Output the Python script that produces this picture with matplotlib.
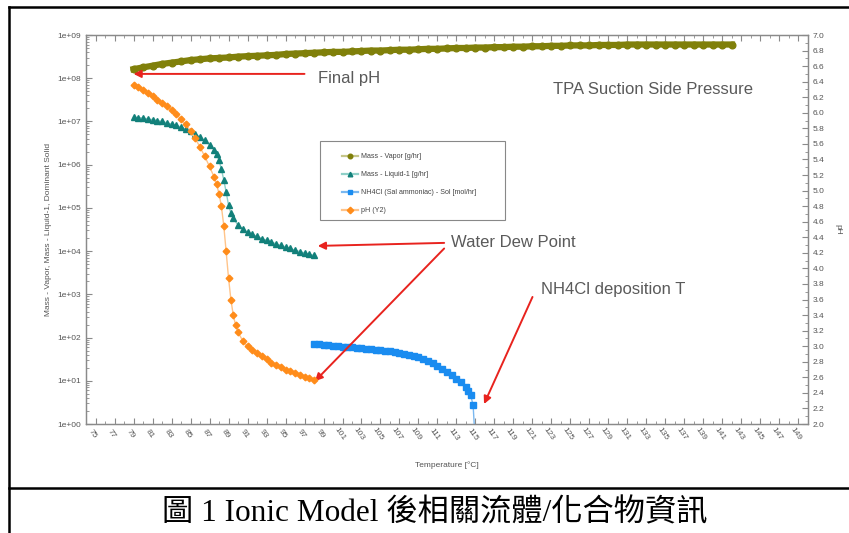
import matplotlib
matplotlib.use("Agg")
import matplotlib.pyplot as plt
import matplotlib.ticker as ticker
from matplotlib.lines import Line2D
from matplotlib.patches import Rectangle

plt.rcParams["font.family"] = ["Liberation Sans", "DejaVu Sans"]

# ---------------------------------------------------------------------------
# Simulation output (temperature sweep)
# ---------------------------------------------------------------------------

# Mass - Vapor [g/hr]
T_VAPOR = [79, 80, 81, 82, 83, 84, 85, 86, 87, 88, 89, 90, 91, 92, 93, 94,
           95, 96, 97, 98, 99, 100, 101, 102, 103, 104, 105, 106, 107, 108,
           109, 110, 111, 112, 113, 114, 115, 116, 117, 118, 119, 120, 121,
           122, 123, 124, 125, 126, 127, 128, 129, 130, 131, 132, 133, 134,
           135, 136, 137, 138, 139, 140, 141, 142]
M_VAPOR = [1.62e8, 1.78e8, 1.95e8, 2.14e8, 2.29e8, 2.45e8, 2.63e8, 2.75e8,
           2.88e8, 2.95e8, 3.02e8, 3.16e8, 3.24e8, 3.31e8, 3.39e8, 3.47e8,
           3.63e8, 3.72e8, 3.80e8, 3.89e8, 3.98e8, 4.07e8, 4.07e8, 4.17e8,
           4.27e8, 4.37e8, 4.37e8, 4.47e8, 4.57e8, 4.57e8, 4.68e8, 4.79e8,
           4.79e8, 4.90e8, 5.01e8, 5.01e8, 5.13e8, 5.13e8, 5.25e8, 5.25e8,
           5.37e8, 5.37e8, 5.50e8, 5.50e8, 5.62e8, 5.62e8, 5.75e8, 5.75e8,
           5.75e8, 5.89e8, 5.89e8, 5.89e8, 6.03e8, 6.03e8, 6.03e8, 6.03e8,
           6.03e8, 6.03e8, 6.03e8, 6.03e8, 6.03e8, 6.03e8, 6.03e8, 6.03e8]

# Mass - Liquid-1 [g/hr]
T_LIQUID = [79.0, 79.5, 80.0, 80.5, 81.0, 81.5, 82.0, 82.5, 83.0, 83.5,
            84.0, 84.5, 85.0, 85.5, 86.0, 86.5, 87.0, 87.5, 87.75, 88.0,
            88.25, 88.5, 88.75, 89.0, 89.25, 89.5, 90.0, 90.5, 91.0, 91.5,
            92.0, 92.5, 93.0, 93.5, 94.0, 94.5, 95.0, 95.5, 96.0, 96.5,
            97.0, 97.5, 98.0]
M_LIQUID = [1.26e7, 1.23e7, 1.20e7, 1.15e7, 1.10e7, 1.05e7, 1.00e7, 9.33e6,
            8.71e6, 8.13e6, 7.41e6, 6.61e6, 5.89e6, 5.13e6, 4.37e6, 3.63e6,
            2.88e6, 2.19e6, 1.74e6, 1.26e6, 7.94e5, 4.47e5, 2.34e5, 1.17e5,
            7.59e4, 5.75e4, 3.98e4, 3.24e4, 2.75e4, 2.45e4, 2.19e4, 1.95e4,
            1.78e4, 1.62e4, 1.48e4, 1.35e4, 1.26e4, 1.15e4, 1.05e4, 9.77e3,
            9.12e3, 8.51e3, 7.94e3]

# NH4Cl (Sal ammoniac) - Sol [mol/hr]
T_NH4CL = [98.0, 98.5, 99.0, 99.5, 100.0, 100.5, 101.0, 101.5, 102.0, 102.5,
           103.0, 103.5, 104.0, 104.5, 105.0, 105.5, 106.0, 106.5, 107.0,
           107.5, 108.0, 108.5, 109.0, 109.5, 110.0, 110.5, 111.0, 111.5,
           112.0, 112.5, 113.0, 113.5, 114.0, 114.25, 114.5, 114.75, 115.0]
N_NH4CL = [70.8, 69.2, 67.6, 66.1, 64.6, 63.1, 61.7, 60.3, 58.9, 57.5, 56.2,
           55.0, 53.7, 52.5, 51.3, 50.1, 47.9, 46.8, 44.7, 42.7, 39.8, 37.2,
           34.7, 31.6, 28.8, 25.7, 22.4, 19.1, 16.2, 13.5, 11.2, 9.3, 7.2,
           5.9, 4.6, 2.7, 0.3]

# pH (Y2)
T_PH = [79.0, 79.5, 80.0, 80.5, 81.0, 81.5, 82.0, 82.5, 83.0, 83.5, 84.0,
        84.5, 85.0, 85.5, 86.0, 86.5, 87.0, 87.5, 87.75, 88.0, 88.25, 88.5,
        88.75, 89.0, 89.25, 89.5, 89.75, 90.0, 90.5, 91.0, 91.5, 92.0, 92.5,
        93.0, 93.5, 94.0, 94.5, 95.0, 95.5, 96.0, 96.5, 97.0, 97.5, 98.0]
PH = [6.36, 6.33, 6.29, 6.25, 6.21, 6.17, 6.13, 6.09, 6.04, 5.98, 5.92,
      5.85, 5.77, 5.67, 5.56, 5.44, 5.31, 5.17, 5.08, 4.96, 4.80, 4.55,
      4.22, 3.88, 3.60, 3.40, 3.27, 3.18, 3.07, 3.00, 2.95, 2.91, 2.87,
      2.83, 2.79, 2.76, 2.73, 2.70, 2.68, 2.65, 2.63, 2.61, 2.59, 2.57]

X_TICKS = list(range(75, 150, 2))

# series styles: (line colour, marker colour, marker)
STYLES = {
    "Mass - Vapor [g/hr]": ("#c6c68a", "#80800a", "o"),
    "Mass - Liquid-1 [g/hr]": ("#8fd0c8", "#12807a", "^"),
    "NH4Cl (Sal ammoniac) - Sol [mol/hr]": ("#7ab8f0", "#1a8cf0", "s"),
    "pH (Y2)": ("#ffc48a", "#ff8c1a", "D"),
}

LABEL_GREY = "#555555"
AXIS_GREY = "#8a8a8a"
ARROW_RED = "#e8231e"
NOTE_GREY = "#5a5a5a"


def arrow(ax, tail, tip):
    ax.annotate("", xy=tip, xytext=tail, xycoords="data",
                arrowprops=dict(arrowstyle="-|>", color=ARROW_RED, lw=1.4,
                                mutation_scale=11, shrinkA=0, shrinkB=0),
                annotation_clip=False)


fig = plt.figure(figsize=(8.49, 5.33), dpi=100)
ax = fig.add_axes([0.1013, 0.2045, 0.8504, 0.7298])
ax2 = ax.twinx()

# --- left axis: masses (log) ---
ax.plot(T_VAPOR, M_VAPOR, color="#80800a", lw=4.5, marker="o", ms=4.8,
        mfc="#80800a", mec="#80800a", zorder=3)
ax.plot(T_LIQUID, M_LIQUID, color="#8fd0c8", lw=1.0, marker="^", ms=5,
        mfc="#12807a", mec="#12807a", zorder=3)
ax.plot(T_NH4CL, N_NH4CL, color="#7ab8f0", lw=1.0, marker="s", ms=4.6,
        mfc="#1a8cf0", mec="#1a8cf0", zorder=3)

# --- right axis: pH ---
ax2.plot(T_PH, PH, color="#ffc48a", lw=1.0, marker="D", ms=3.4,
         mfc="#ff8c1a", mec="#ff8c1a", zorder=3)

ax.set_yscale("log")
ax.set_ylim(1, 1e9)
ax.set_xlim(74, 150)
ax2.set_ylim(2.0, 7.0)

ax.yaxis.set_major_locator(ticker.LogLocator(base=10, numticks=12))
ax.yaxis.set_major_formatter(ticker.FuncFormatter(lambda v, _: f"{v:.0e}"))
ax.yaxis.set_minor_locator(ticker.LogLocator(base=10, subs=range(2, 10), numticks=12))
ax.yaxis.set_minor_formatter(ticker.NullFormatter())

ax.set_xticks(X_TICKS)
ax.set_xticklabels([str(t) for t in X_TICKS], rotation=-55, ha="center",
                   rotation_mode="anchor")
ax.xaxis.set_minor_locator(ticker.MultipleLocator(1))

ax2.yaxis.set_major_locator(ticker.MultipleLocator(0.2))
ax2.yaxis.set_minor_locator(ticker.MultipleLocator(0.1))
ax2.yaxis.set_major_formatter(ticker.FormatStrFormatter("%.1f"))

for a in (ax, ax2):
    for sp in a.spines.values():
        sp.set_color(AXIS_GREY)
        sp.set_linewidth(0.9)
ax.tick_params(axis="both", which="major", direction="in", length=4,
               color=AXIS_GREY, labelsize=6, labelcolor=LABEL_GREY)
ax.tick_params(axis="both", which="minor", direction="in", length=2,
               color=AXIS_GREY)
ax.tick_params(axis="x", top=True, which="both", pad=6)
ax2.tick_params(axis="y", which="major", direction="in", length=4,
                color=AXIS_GREY, labelsize=6, labelcolor=LABEL_GREY)
ax2.tick_params(axis="y", which="minor", direction="in", length=2,
                color=AXIS_GREY)

ax.set_xlabel("Temperature [°C]", fontsize=6, color=LABEL_GREY, labelpad=14)
ax.set_ylabel("Mass - Vapor, Mass - Liquid-1, Dominant Solid", fontsize=6,
              color=LABEL_GREY, labelpad=4)
ax2.set_ylabel("pH", fontsize=6, color=LABEL_GREY, rotation=-90, labelpad=12)

# legend box with light lines and solid markers
handles = [Line2D([], [], color=lc, lw=1.6, marker=m, ms=3.3, mfc=mc, mec=mc)
           for lc, mc, m in STYLES.values()]
ax2.add_patch(Rectangle((0.3241, 0.5244), 0.2562, 0.2031,
                        transform=ax2.transAxes, facecolor="white",
                        edgecolor="#888888", lw=0.8, zorder=4))
leg = ax2.legend(handles, list(STYLES.keys()), loc="upper left",
                 bbox_to_anchor=(0.349, 0.705), fontsize=5.1, frameon=False,
                 borderpad=0, labelspacing=1.55, handlelength=2.3,
                 handletextpad=0.4)
leg.set_zorder(5)
for t in leg.get_texts():
    t.set_color("#444444")

# annotations
ax.text(98.4, 1.0e8, "Final pH", fontsize=12, color=NOTE_GREY, va="center")
arrow(ax, (97.0, 1.26e8), (79.0, 1.26e8))

ax.text(123.2, 5.4e7, "TPA Suction Side Pressure", fontsize=12,
        color=NOTE_GREY, va="center")

ax.text(112.4, 1.55e4, "Water Dew Point", fontsize=12, color=NOTE_GREY,
        va="center")
arrow(ax, (111.7, 1.55e4), (98.4, 1.32e4))
arrow(ax, (111.7, 1.15e4), (98.1, 9.8))

ax.text(121.9, 1.32e3, "NH4Cl deposition T", fontsize=12, color=NOTE_GREY,
        va="center")
arrow(ax, (121.0, 8.7e2), (115.9, 2.9))

# page frame and caption
fig.add_artist(Line2D([0.0106, 0.0106], [0.0, 0.987], transform=fig.transFigure,
                      color="black", lw=1.8))
fig.add_artist(Line2D([0.0106, 1.0], [0.987, 0.987], transform=fig.transFigure,
                      color="black", lw=1.8))
fig.add_artist(Line2D([0.0106, 1.0], [0.0844, 0.0844], transform=fig.transFigure,
                      color="black", lw=1.8))
fig.text(0.512, 0.036, "圖 1 Ionic Model 後相關流體/化合物資訊", fontsize=22.5,
         ha="center", va="center",
         family=["Liberation Serif", "Noto Sans CJK TC"])

fig.savefig("out.png", dpi=100)
